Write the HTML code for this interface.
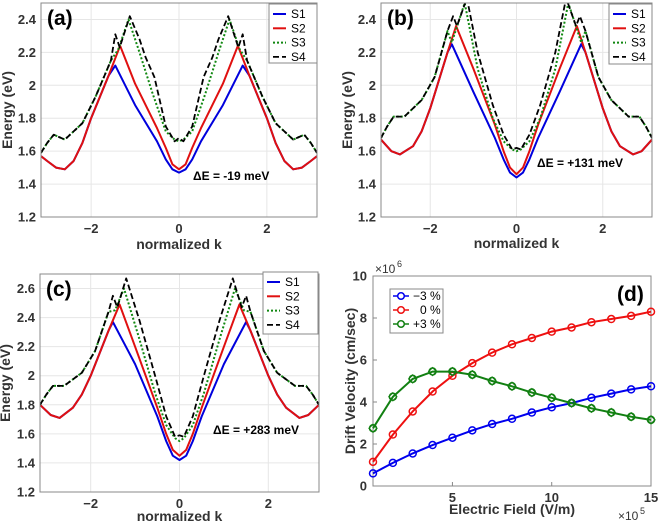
<!DOCTYPE html>
<html><head><meta charset="utf-8"><style>
body{margin:0;background:#fff}
svg{display:block;font-family:"Liberation Sans",sans-serif}
</style></head><body>
<svg id="fig" width="660" height="524" viewBox="0 0 660 524"></svg>
<script>
// Panel (a)
const aK1=[0,0.15,0.3,0.5,1.0,1.45,1.6,2.0,2.2,2.4,2.6,2.8,3.0,3.1416];
const aS1=[1.47,1.49,1.55,1.66,1.88,2.12,2.06,1.8,1.65,1.54,1.49,1.5,1.54,1.57];
const aK2=[0,0.15,0.3,0.5,1.0,1.34,1.6,2.0,2.2,2.4,2.6,2.8,3.0,3.1416];
const aS2=[1.49,1.52,1.62,1.74,2.01,2.24,2.06,1.8,1.65,1.54,1.49,1.5,1.54,1.57];
const aK3=[0,0.1,0.3,0.6,0.9,1.15,1.38,1.55,1.9,2.2,2.6,2.85,3.0,3.1416];
const aS3=[1.66,1.67,1.72,1.95,2.2,2.40,2.22,2.15,1.93,1.77,1.67,1.70,1.65,1.59];
const aK4=[0,0.1,0.3,0.56,0.76,0.9,1.12,1.35,1.45,1.55,1.9,2.2,2.6,2.85,3.0,3.1416];
const aS4=[1.68,1.66,1.75,2.05,2.17,2.28,2.42,2.23,2.31,2.15,1.93,1.77,1.67,1.70,1.65,1.59];
// Panel (b)
const bK1=[0,0.15,0.3,0.5,1.0,1.5,1.6,2.0,2.2,2.4,2.7,2.9,3.1416];
const bS1=[1.44,1.47,1.55,1.68,1.96,2.25,2.2,1.86,1.72,1.63,1.58,1.6,1.67];
const bK2=[0,0.15,0.3,0.5,1.0,1.4,1.6,2.0,2.2,2.4,2.7,2.9,3.1416];
const bS2=[1.46,1.5,1.6,1.76,2.1,2.36,2.2,1.86,1.72,1.63,1.58,1.6,1.67];
const bK3=[0,0.1,0.3,0.55,0.9,1.2,1.5,1.6,1.9,2.2,2.6,2.85,3.0,3.1416];
const bS3=[1.6,1.61,1.66,1.8,2.1,2.5,2.26,2.33,2.05,1.91,1.81,1.81,1.75,1.68];
const bK4=[0,0.1,0.3,0.55,0.9,1.15,1.38,1.47,1.6,1.9,2.2,2.6,2.85,3.0,3.1416];
const bS4=[1.62,1.61,1.7,1.88,2.2,2.53,2.36,2.42,2.33,2.05,1.91,1.81,1.81,1.75,1.68];
// Panel (c)
const cK1=[0,0.15,0.3,0.5,1.0,1.5,1.6,2.0,2.2,2.4,2.7,2.9,3.1416];
const cS1=[1.42,1.45,1.55,1.72,2.08,2.37,2.31,2.0,1.87,1.78,1.71,1.73,1.80];
const cK2=[0,0.15,0.3,0.5,1.0,1.35,1.6,2.0,2.2,2.4,2.7,2.9,3.1416];
const cS2=[1.45,1.49,1.6,1.78,2.2,2.49,2.31,2.0,1.87,1.78,1.71,1.73,1.80];
const cK3=[0,0.1,0.3,0.55,0.9,1.25,1.45,1.6,1.9,2.2,2.6,2.85,3.0,3.1416];
const cS3=[1.55,1.57,1.66,1.88,2.25,2.6,2.45,2.44,2.17,2.02,1.93,1.93,1.87,1.80];
const cK4=[0,0.1,0.3,0.55,0.9,1.2,1.4,1.5,1.6,1.9,2.2,2.6,2.85,3.0,3.1416];
const cS4=[1.59,1.58,1.72,2.0,2.38,2.67,2.47,2.55,2.44,2.17,2.02,1.93,1.93,1.87,1.80];
// Panel (d)
const dField=[1,2,3,4,5,6,7,8,9,10,11,12,13,14,15];
const dMinus3=[0.6,1.1,1.55,1.95,2.3,2.65,2.95,3.2,3.5,3.75,3.95,4.2,4.4,4.6,4.75];
const dZero=[1.15,2.45,3.55,4.5,5.25,5.85,6.35,6.75,7.05,7.35,7.55,7.8,7.95,8.1,8.3];
const dPlus3=[2.75,4.25,5.1,5.45,5.45,5.3,5.0,4.75,4.45,4.2,3.95,3.7,3.5,3.3,3.15];
const bandYTicks=[1.2,1.4,1.6,1.8,2,2.2,2.4,2.6];
const kTicks=[-2,0,2];
const dXTicks=[5,10,15];
const dYTicks=[0,2,4,6,8,10];

const NS="http://www.w3.org/2000/svg";
const svg=document.getElementById('fig');
function el(tag,attrs,parent,text){const e=document.createElementNS(NS,tag);for(const k in attrs)e.setAttribute(k,attrs[k]);if(text!==undefined)e.textContent=text;(parent||svg).appendChild(e);return e;}

const styles=[
 {stroke:'#0000dd',dash:'',w:2,name:'S1'},
 {stroke:'#e01010',dash:'',w:2,name:'S2'},
 {stroke:'#118811',dash:'2,2',w:2,name:'S3'},
 {stroke:'#000',dash:'6,3',w:1.8,name:'S4'}];

function bandPanel(id,L,R,T,B,ymin,ymax,series,label,de,deX,deY,lg,ylx,xly){
  const g=el('g',{},svg);
  
  
  const X=k=>L+(k+Math.PI)/(2*Math.PI)*(R-L);
  const Y=e=>B-(e-ymin)/(ymax-ymin)*(B-T);
  const cp='clip'+id;
  const cl=el('clipPath',{id:cp},g);el('rect',{x:L,y:T,width:R-L,height:B-T},cl);
  bandYTicks.filter(v=>v>=ymin-1e-9&&v<=ymax+1e-9).forEach(v=>{
    const gl=el('line',{x1:L,x2:R,y1:Y(v),y2:Y(v),stroke:'#e6e6e6','stroke-width':1},g);
    
    const t=el('text',{x:L-5,y:Y(v)+4.5,'text-anchor':'end','font-size':13,'font-weight':'bold',fill:'#333'},g,String(v));
    
  });
  kTicks.forEach(v=>{
    const gl=el('line',{x1:X(v),x2:X(v),y1:T,y2:B,stroke:'#e6e6e6','stroke-width':1},g);
    
    const t=el('text',{x:X(v),y:B+16,'text-anchor':'middle','font-size':13,'font-weight':'bold',fill:'#333'},g,v<0?'\u2212'+(-v):String(v));
    
  });
  [0,1,2,3].forEach(i=>{
    const [ks,es]=series[i];
    const pts=[];
    for(let j=ks.length-1;j>=0;j--)pts.push(X(-ks[j]).toFixed(1)+','+Y(es[j]).toFixed(1));
    for(let j=1;j<ks.length;j++)pts.push(X(ks[j]).toFixed(1)+','+Y(es[j]).toFixed(1));
    const p=el('polyline',{points:pts.join(' '),fill:'none',stroke:styles[i].stroke,'stroke-width':styles[i].w,'stroke-dasharray':styles[i].dash,'clip-path':'url(#'+cp+')','stroke-linejoin':'round'},g);
    
    
  });
  const fr=el('rect',{x:L,y:T,width:R-L,height:B-T,fill:'none',stroke:'#888','stroke-width':1},g);
  
  const pl=el('text',{x:L+6,y:T+22,'font-size':21,'font-weight':'bold',fill:'#000'},g,label);
  
  const d=el('text',{x:deX,y:deY,'font-size':12,'font-weight':'bold',fill:'#000'},g,de);
  
  const yl=el('text',{x:ylx,y:(T+B)/2,'text-anchor':'middle','font-size':14,'font-weight':'bold',fill:'#333',transform:'rotate(-90 '+ylx+' '+((T+B)/2)+')'},g,'Energy (eV)');
  
  const xl=el('text',{x:(L+R)/2,y:xly,'text-anchor':'middle','font-size':14,'font-weight':'bold',fill:'#333'},g,'normalized k');
  
  const lgG=el('g',{},g);
  
  el('rect',{x:lg[0],y:lg[1],width:lg[2],height:lg[3],fill:'#fff',stroke:'#888','stroke-width':1},lgG);
  styles.forEach((s,i)=>{
    const yy=lg[1]+10+i*14.3;
    const ent=el('g',{},lgG);
    
    
    el('line',{x1:lg[0]+4,x2:lg[0]+17,y1:yy,y2:yy,stroke:s.stroke,'stroke-width':s.w,'stroke-dasharray':s.dash},ent);
    el('text',{x:lg[0]+22,y:yy+4,'font-size':12,fill:'#000'},ent,s.name);
  });
}

bandPanel('a',41,317,3,217,1.2,2.5,[[aK1,aS1],[aK2,aS2],[aK3,aS3],[aK4,aS4]],'(a)','\u0394E = -19 meV',193,180,[269,4,48,59],12,249);
bandPanel('b',381,652,3,217,1.2,2.5,[[bK1,bS1],[bK2,bS2],[bK3,bS3],[bK4,bS4]],'(b)','\u0394E = +131 meV',537,167,[609,4,43,60],352,248);
bandPanel('c',40,319,274,492,1.2,2.7,[[cK1,cS1],[cK2,cS2],[cK3,cS3],[cK4,cS4]],'(c)','\u0394E = +283 meV',213,434,[263,272,55,62],10,521);

// Panel (d)
(function(){
  const L=373,R=651,T=276,B=486;
  const g=el('g',{},svg);
  
  
  const X=v=>L+(v-1)/14*(R-L);
  const Y=v=>B-v/10*(B-T);
  dYTicks.forEach(v=>{
    const t=el('text',{x:L-6,y:Y(v)+4.5,'text-anchor':'end','font-size':13,'font-weight':'bold',fill:'#333'},g,String(v));
    
    el('line',{x1:L,x2:L+4,y1:Y(v),y2:Y(v),stroke:'#888'},g);
  });
  dXTicks.forEach(v=>{
    const t=el('text',{x:X(v),y:B+16,'text-anchor':'middle','font-size':13,'font-weight':'bold',fill:'#333'},g,String(v));
    
    el('line',{x1:X(v),x2:X(v),y1:B,y2:B-4,stroke:'#888'},g);
  });
  const fr=el('rect',{x:L,y:T,width:R-L,height:B-T,fill:'none',stroke:'#888','stroke-width':1},g);
  
  const ser=[[dMinus3,'#0000ee','circle','minus-3'],[dZero,'#ee1010','circle','zero'],[dPlus3,'#128012','diamond','plus-3']];
  ser.forEach(([vals,col,mk,nm])=>{
    const pts=vals.map((v,i)=>X(dField[i]).toFixed(1)+','+Y(v).toFixed(1)).join(' ');
    const p=el('polyline',{points:pts,fill:'none',stroke:col,'stroke-width':2},g);
    
    vals.forEach((v,i)=>{
      const cx=X(dField[i]),cy=Y(v);
      const m=el('circle',{cx:cx,cy:cy,r:3.5,fill:'none',stroke:col,'stroke-width':1.5},g);
      
      if(mk==='diamond'){el('path',{d:`M${cx},${cy-4}L${cx+4},${cy}L${cx},${cy+4}L${cx-4},${cy}Z`,fill:'none',stroke:col,'stroke-width':1.2},g);}
    });
  });
  const lgG=el('g',{},g);
  
  el('rect',{x:390,y:289,width:53,height:44,fill:'#fff',stroke:'#888'},lgG);
  const labs=['\u22123 %','0 %','+3 %'];
  ser.forEach((s,i)=>{
    const yy=296+i*14;
    const ent=el('g',{},lgG);
    
    
    el('line',{x1:393,x2:409,y1:yy,y2:yy,stroke:s[1],'stroke-width':1.5},ent);
    el('circle',{cx:401,cy:yy,r:3.3,fill:'#fff',stroke:s[1],'stroke-width':1.5},ent);
    el('text',{x:i===1?420:413,y:yy+4,'font-size':12,fill:'#000'},ent,labs[i]);
  });
  const pl=el('text',{x:617,y:301,'font-size':21,'font-weight':'bold',fill:'#000'},g,'(d)');
  
  const e6=el('text',{x:375,y:273,'font-size':12,fill:'#333'},g,'\u00d710');
  
  el('text',{x:397,y:267,'font-size':9,fill:'#333'},g,'6');
  const e5=el('text',{x:618,y:520,'font-size':12,fill:'#333'},g,'\u00d710');
  
  el('text',{x:640,y:514,'font-size':9,fill:'#333'},g,'5');
  const yl=el('text',{x:355,y:381,'text-anchor':'middle','font-size':14,'font-weight':'bold',fill:'#333',transform:'rotate(-90 355 381)'},g,'Drift Velocity (cm/sec)');
  
  const xl=el('text',{x:512,y:514,'text-anchor':'middle','font-size':14,'font-weight':'bold',fill:'#333'},g,'Electric Field (V/m)');
  
})();
</script>
</body></html>
